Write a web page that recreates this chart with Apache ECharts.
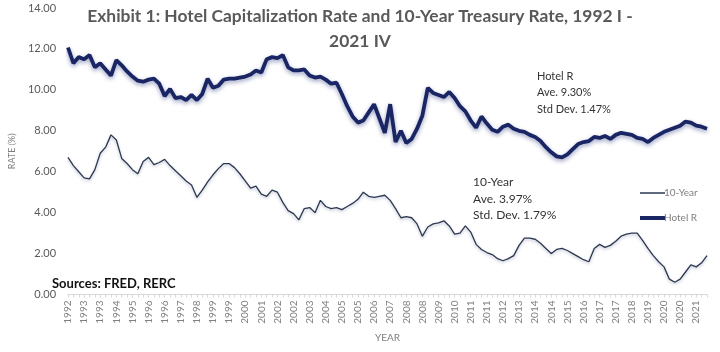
<!DOCTYPE html>
<html>
<head>
<meta charset="utf-8">
<script src="https://cdn.jsdelivr.net/npm/echarts@6/dist/echarts.min.js"></script>
<style>
html,body{margin:0;padding:0;background:#fff;}
#chart{width:720px;height:352px;}
</style>
</head>
<body>
<div id="chart"></div>
<script>
// ---- data ----
const tickLabels = ['1992','1993','1993','1994','1995','1996','1996','1997','1998','1999',
  '1999','2000','2001','2002','2002','2003','2004','2005','2005','2006',
  '2007','2008','2008','2009','2010','2011','2011','2012','2013','2014',
  '2014','2015','2016','2017','2017','2018','2019','2020','2020','2021'];

const hotelR = [
  12.07, 11.3, 11.6, 11.5, 11.7, 11.1, 11.3, 11.0, 10.7, 11.45,
  11.2, 10.9, 10.65, 10.45, 10.4, 10.5, 10.55, 10.3, 9.7, 10.05,
  9.6, 9.65, 9.5, 9.75, 9.5, 9.8, 10.55, 10.1, 10.2, 10.5,
  10.55, 10.55, 10.6, 10.65, 10.75, 10.95, 10.85, 11.5, 11.6, 11.55,
  11.7, 11.1, 10.95, 10.95, 11.0, 10.7, 10.6, 10.65, 10.5, 10.3,
  10.35, 9.8, 9.2, 8.7, 8.4, 8.5, 8.9, 9.3, 8.6, 7.9,
  9.3, 7.45, 8.0, 7.4, 7.6, 8.1, 8.75, 10.1, 9.85, 9.75,
  9.65, 9.9, 9.6, 9.2, 8.95, 8.5, 8.15, 8.7, 8.35, 8.05,
  7.95, 8.2, 8.3, 8.1, 8.0, 7.95, 7.8, 7.7, 7.5, 7.2,
  6.95, 6.75, 6.7, 6.85, 7.1, 7.35, 7.45, 7.5, 7.7, 7.65,
  7.75, 7.6, 7.8, 7.9, 7.85, 7.8, 7.65, 7.6, 7.45, 7.65,
  7.8, 7.95, 8.05, 8.15, 8.25, 8.45, 8.4, 8.25, 8.2, 8.1
];

const tenYear = [
  6.7, 6.3, 6.0, 5.7, 5.65, 6.1, 6.9, 7.2, 7.8, 7.55,
  6.65, 6.4, 6.1, 5.9, 6.5, 6.7, 6.35, 6.45, 6.6, 6.3,
  6.05, 5.8, 5.55, 5.35, 4.75, 5.1, 5.5, 5.85, 6.15, 6.4,
  6.4, 6.2, 5.9, 5.55, 5.2, 5.3, 4.9, 4.8, 5.1, 5.0,
  4.5, 4.1, 3.95, 3.65, 4.2, 4.25, 4.0, 4.6, 4.3, 4.2,
  4.25, 4.15, 4.3, 4.45, 4.65, 5.0, 4.8, 4.75, 4.8, 4.85,
  4.6, 4.2, 3.75, 3.8, 3.75, 3.45, 2.85, 3.3, 3.45, 3.5,
  3.6, 3.35, 2.95, 3.0, 3.35, 3.05, 2.45, 2.2, 2.05, 1.95,
  1.75, 1.65, 1.75, 1.9, 2.4, 2.75, 2.75, 2.7, 2.5, 2.25,
  2.0, 2.2, 2.25, 2.15, 2.0, 1.85, 1.7, 1.6, 2.25, 2.45,
  2.3, 2.4, 2.6, 2.85, 2.95, 3.0, 3.0, 2.65, 2.25, 1.9,
  1.6, 1.35, 0.75, 0.6, 0.75, 1.1, 1.45, 1.35, 1.55, 1.9
];

const yTicks = [0, 2, 4, 6, 8, 10, 12, 14];
const romans = ['I', 'II', 'III', 'IV'];
const quarters = hotelR.map((_, i) => (1992 + Math.floor(i / 4)) + ' ' + romans[i % 4]);

const FONT = 'Lato, "Open Sans", sans-serif';
const chart = echarts.init(document.getElementById('chart'), null, {renderer: 'canvas'});

chart.setOption({
  backgroundColor: '#ffffff',
  animation: false,
  grid: {left: 57, right: 13, top: 8, bottom: 57.5, containLabel: false},
  xAxis: {
    type: 'category',
    data: quarters,
    boundaryGap: false,
    name: 'YEAR',
    nameLocation: 'middle',
    nameGap: 38,
    nameTextStyle: {color: '#7f7f7f', fontSize: 10, fontFamily: FONT},
    axisLine: {lineStyle: {color: '#d9d9d9', width: 1}},
    axisTick: {show: true, interval: 0, length: 3, lineStyle: {color: '#d9d9d9'}},
    axisLabel: {
      interval: 2, rotate: 90, fontSize: 10, color: '#7f7f7f', fontFamily: FONT, margin: 6,
      formatter: (v, idx) => tickLabels[Math.round(idx / 3)]
    },
    splitLine: {show: false}
  },
  yAxis: {
    type: 'value',
    min: yTicks[0], max: yTicks[yTicks.length - 1], interval: 2,
    name: 'RATE (%)',
    nameLocation: 'middle',
    nameGap: 44,
    nameRotate: 90,
    nameTextStyle: {color: '#7f7f7f', fontSize: 9, fontFamily: FONT},
    axisLine: {show: false},
    axisTick: {show: false},
    splitLine: {show: false},
    axisLabel: {
      fontSize: 11, color: '#595959', fontFamily: FONT, margin: 12,
      formatter: v => v.toFixed(2)
    }
  },
  legend: [
    {
      data: ['10-Year'], orient: 'vertical', left: 635, top: 183,
      icon: 'rect', itemWidth: 25, itemHeight: 1.5, itemGap: 2,
      textStyle: {color: '#7f7f7f', fontSize: 10, fontFamily: FONT, padding: [0, 0, 0, -6]}
    },
    {
      data: ['Hotel R'], orient: 'vertical', left: 635, top: 208,
      icon: 'rect', itemWidth: 25, itemHeight: 4, itemGap: 2,
      textStyle: {color: '#7f7f7f', fontSize: 10, fontFamily: FONT, padding: [0, 0, 0, -6]}
    }
  ],
  series: [
    {
      name: '10-Year', type: 'line', data: tenYear, showSymbol: false, smooth: false,
      lineStyle: {color: '#2d3850', width: 1.3, shadowColor: 'rgba(40,60,110,0.35)', shadowBlur: 3, shadowOffsetY: 1.5},
      itemStyle: {color: '#2d3850'}
    },
    {
      name: 'Hotel R', type: 'line', data: hotelR, showSymbol: false, smooth: false,
      lineStyle: {color: '#1a2663', width: 3.8, shadowColor: 'rgba(30,45,120,0.45)', shadowBlur: 4, shadowOffsetY: 2},
      itemStyle: {color: '#1a2663'}
    }
  ],
  graphic: [
    {type: 'text', left: 'center', top: 4,
      style: {text: 'Exhibit 1: Hotel Capitalization Rate and 10-Year Treasury Rate, 1992 I -\n2021 IV',
        textAlign: 'center', fill: '#595959', font: 'bold 17.4px ' + FONT, lineHeight: 25}},
    {type: 'text', left: 537, top: 68,
      style: {text: 'Hotel R\nAve. 9.30%\nStd Dev. 1.47%', fill: '#333333', font: '11px ' + FONT, lineHeight: 16.5}},
    {type: 'text', left: 473, top: 174,
      style: {text: '10-Year\nAve. 3.97%\nStd. Dev. 1.79%', fill: '#333333', font: '12px ' + FONT, lineHeight: 16.5}},
    {type: 'text', left: 52, top: 277,
      style: {text: 'Sources: FRED, RERC', fill: '#111111', font: 'bold 13px ' + FONT}}
  ]
});
</script>
</body>
</html>
